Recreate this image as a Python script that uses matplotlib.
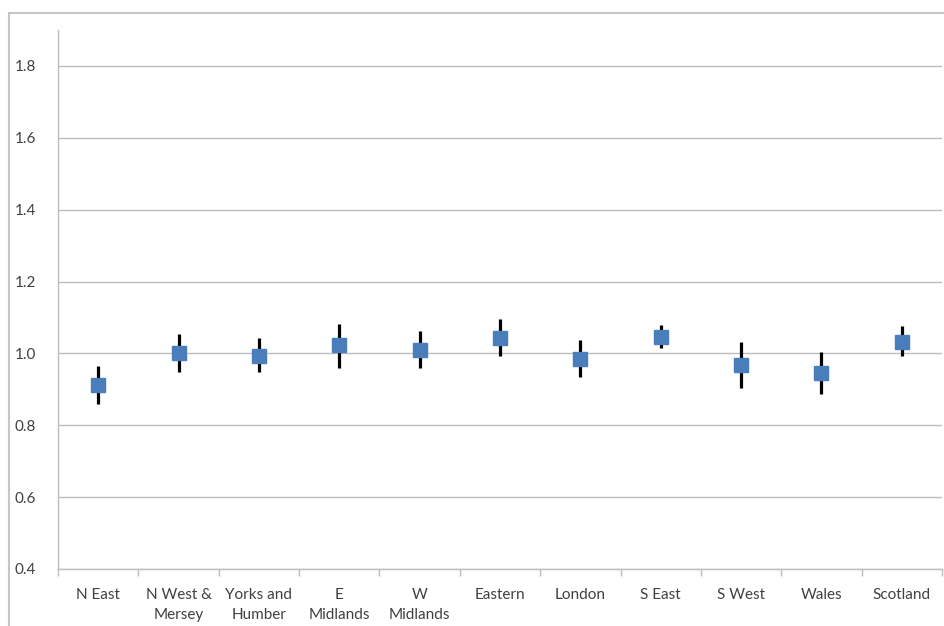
import matplotlib
matplotlib.use("Agg")
import matplotlib.pyplot as plt
from matplotlib.patches import Rectangle
from matplotlib.ticker import FixedLocator, FormatStrFormatter

regions = ["N East", "N West &\nMersey", "Yorks and\nHumber", "E\nMidlands", "W\nMidlands",
           "Eastern", "London", "S East", "S West", "Wales", "Scotland"]
ratio = [0.913, 1.000, 0.994, 1.022, 1.009, 1.043, 0.985, 1.045, 0.967, 0.946, 1.033]
upper = [0.966, 1.054, 1.042, 1.083, 1.062, 1.096, 1.036, 1.078, 1.032, 1.005, 1.076]
lower = [0.860, 0.947, 0.947, 0.960, 0.958, 0.992, 0.935, 1.015, 0.903, 0.886, 0.992]
yticks = [0.4, 0.6, 0.8, 1.0, 1.2, 1.4, 1.6, 1.8]

plt.rcParams['font.family'] = ['Lato', 'DejaVu Sans']

W, H = 944, 626
fig = plt.figure(figsize=(W / 100, H / 100), dpi=100)
ax = fig.add_axes([58 / W, (H - 569) / H, (942 - 58) / W, (569 - 30) / H])

x = list(range(len(regions)))
err_lo = [r - l for r, l in zip(ratio, lower)]
err_hi = [u - r for r, u in zip(ratio, upper)]
ax.errorbar(x, ratio, yerr=[err_lo, err_hi], fmt='none', ecolor='black',
            elinewidth=2.3, capsize=0, zorder=3)
ax.plot(x, ratio, linestyle='none', marker='s', markersize=10.5,
        color='#4a7ebb', markeredgecolor='#4a7ebb', zorder=4)

ax.set_xlim(-0.5, len(regions) - 0.5)
ax.set_ylim(0.4, 1.9)
ax.set_yticks(yticks)
ax.yaxis.set_major_formatter(FormatStrFormatter('%.1f'))
ax.yaxis.grid(True, color='#bdbdbd', linewidth=1.0)
ax.set_axisbelow(True)

ax.set_xticks(x)
ax.set_xticklabels(regions, fontsize=11, color='#404040', linespacing=1.55)
ax.xaxis.set_minor_locator(FixedLocator([i - 0.5 for i in range(len(regions) + 1)]))
ax.tick_params(axis='x', which='major', length=0, pad=14)
ax.tick_params(axis='x', which='minor', length=5, color='#bdbdbd', width=1)
ax.tick_params(axis='y', length=0, pad=16, labelsize=11, labelcolor='#404040')

for side in ['top', 'right']:
    ax.spines[side].set_visible(False)
ax.spines['left'].set_color('#bdbdbd')
ax.spines['bottom'].set_color('#bdbdbd')
ax.spines['left'].set_linewidth(1.0)
ax.spines['bottom'].set_linewidth(1.0)

# outer chart frame
fig.patches.append(Rectangle((9 / W, -0.1), 1.5, (H - 13) / H + 0.1,
                             transform=fig.transFigure, fill=False,
                             edgecolor='#c6c6c6', linewidth=1.5))

fig.savefig("out.png", dpi=100)
